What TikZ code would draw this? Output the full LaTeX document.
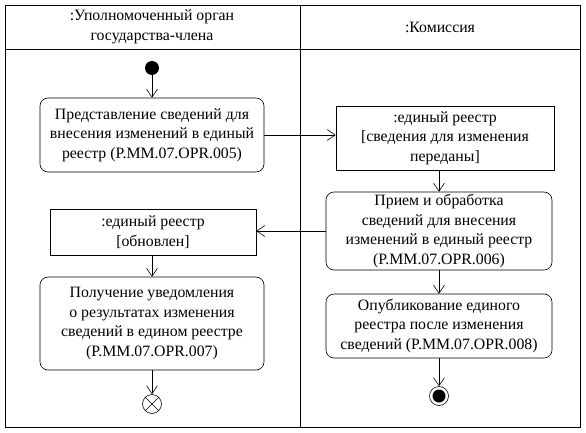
\documentclass[tikz,border=0pt]{standalone}
\usepackage{fontspec}
\setmainfont{Liberation Serif}
\usetikzlibrary{arrows.meta, positioning, calc}

\begin{document}
\begin{tikzpicture}[
    x=1pt, y=-1pt,
    arr/.style={-{Straight Barb[length=8pt, width=11pt]}, line width=0.6pt},
    act/.style={draw, line width=0.6pt, rounded corners=8pt, align=center, inner sep=0pt,
        font=\fontsize{15.8}{19.5}\selectfont},
    obj/.style={draw, line width=0.6pt, align=center, inner sep=0pt,
        font=\fontsize{15.8}{19.5}\selectfont},
    lane/.style={font=\fontsize{15.8}{19.5}\selectfont, align=center},
]
\useasboundingbox (0,0) rectangle (586,433);

% === SWIMLANES ===
\draw[line width=0.6pt] (5,5) rectangle (580,427);
\draw[line width=0.6pt] (5,49) -- (580,49);
\draw[line width=0.6pt] (300,5) -- (300,427);
\node[lane] (laneA) at (152,27) {:Уполномоченный орган\\государства-члена};
\node[lane] (laneB) at (440,27) {:Комиссия};

% === NODES ===
\node[circle, fill=black, inner sep=0pt, minimum size=14pt] (start) at (152,68) {};
\node[act, minimum width=224pt, minimum height=74pt] (a1) at (152,135)
    {Представление сведений для\\внесения изменений в единый\\реестр (P.MM.07.OPR.005)};
\node[obj, minimum width=218pt, minimum height=64pt] (o1) at (445,138)
    {:единый реестр\\{[}сведения для изменения\\переданы{]}};
\node[act, minimum width=226pt, minimum height=78pt] (a2) at (439,231)
    {Прием и обработка\\сведений для внесения\\изменений в единый реестр\\(P.MM.07.OPR.006)};
\node[obj, minimum width=206pt, minimum height=46pt] (o2) at (153,232)
    {:единый реестр\\{[}обновлен{]}};
\node[act, minimum width=224pt, minimum height=93pt] (a3) at (152,323.5)
    {Получение уведомления\\о результатах изменения\\сведений в едином реестре\\(P.MM.07.OPR.007)};
\node[act, minimum width=226pt, minimum height=64pt] (a4) at (439,326)
    {Опубликование единого\\реестра после изменения\\сведений (P.MM.07.OPR.008)};
\node[circle, draw, line width=0.6pt, inner sep=0pt, minimum size=19pt] (flowend) at (152,404) {};
\draw[line width=0.6pt] ($(flowend.center)+(-6.7,-6.7)$) -- ($(flowend.center)+(6.7,6.7)$);
\draw[line width=0.6pt] ($(flowend.center)+(-6.7,6.7)$) -- ($(flowend.center)+(6.7,-6.7)$);
\node[circle, draw, line width=0.6pt, inner sep=0pt, minimum size=19pt] (fin) at (439,396) {};
\node[circle, fill=black, inner sep=0pt, minimum size=13pt] at (fin.center) {};

% === ARROWS ===
\draw[arr] (start) -- (a1);
\draw[arr] (a1.east) -- (a1.east -| o1.west);
\draw[arr] (o1.south -| a2.north) -- (a2.north);
\draw[arr] (a2.west) -- (a2.west -| o2.east);
\draw[arr] (o2.south -| a3.north) -- (a3.north);
\draw[arr] (a3.south -| flowend.north) -- (flowend.north);
\draw[arr] (a2.south) -- (a4.north);
\draw[arr] (a4.south) -- (fin.north);

\end{tikzpicture}
\end{document}
